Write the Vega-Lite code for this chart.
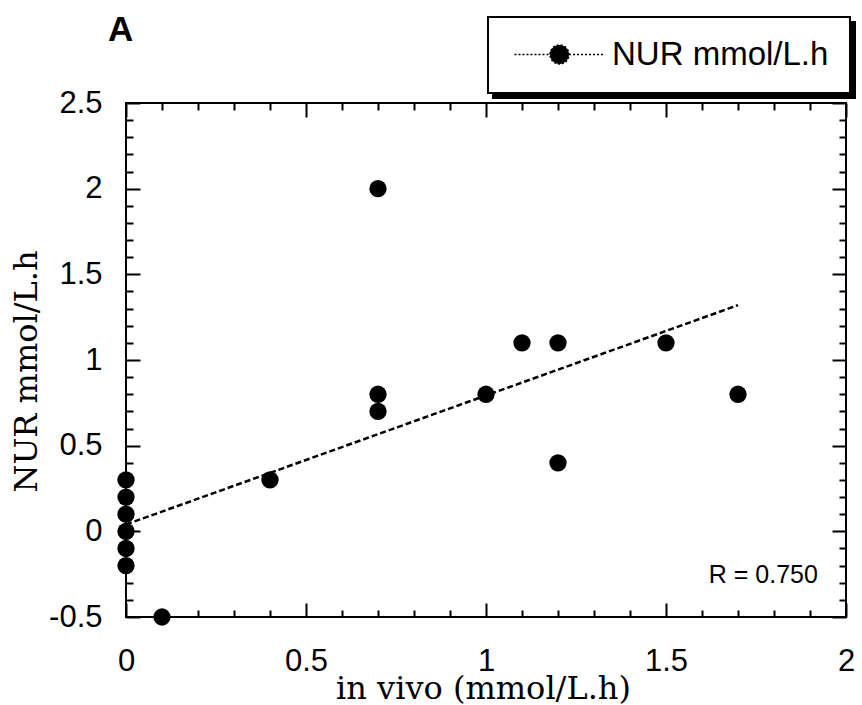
{
  "$schema": "https://vega.github.io/schema/vega-lite/v6.json",
  "width": 720,
  "height": 514,
  "autosize": {"type": "none"},
  "padding": {"left": 126, "top": 103, "right": 16, "bottom": 88},
  "background": "white",
  "title": {"text": "A", "anchor": "start", "frame": "group", "dx": -18, "offset": -67, "font": "Liberation Sans", "fontSize": 35, "fontWeight": "bold", "color": "black", "baseline": "bottom"},
  "config": {
    "title": {"font": "Liberation Sans", "fontSize": 35, "fontWeight": "bold", "color": "black"},
    "view": {"stroke": "black", "strokeWidth": 2},
    "axis": {"domain": false, "grid": false, "tickColor": "black", "tickWidth": 2, "labelFont": "Liberation Sans", "labelFontSize": 31, "labelColor": "black", "titleColor": "black", "titleFont": "DejaVu Serif", "titleFontSize": 32, "titleFontWeight": "normal", "labelOverlap": false, "labelFlush": false, "labelBound": false},
    "legend": {"strokeColor": "black", "strokeWidth": 2, "padding": 21, "symbolType": "M -3 0 L -0.633 0 M 0.633 0 L 3 0 M -0.633 0 A 0.633 0.633 0 1 1 0.633 0 A 0.633 0.633 0 1 1 -0.633 0 Z", "symbolSize": 900, "symbolOffset": 34, "labelOffset": 36, "labelFont": "Liberation Sans", "labelFontSize": 33, "labelColor": "black", "labelLimit": 0, "symbolStrokeColor": "black", "symbolStrokeWidth": 1.5, "symbolDash": [2, 2], "symbolFillColor": "black", "symbolOpacity": 1}
  },
  "resolve": {"axis": {"x": "independent", "y": "independent"}},
  "layer": [
    {
      "data": {"values": [
        {"x": 0, "y": 0.04, "fit": "NUR mmol/L.h"},
        {"x": 1.7, "y": 1.32, "fit": "NUR mmol/L.h"}
      ]},
      "mark": {"type": "line", "color": "black", "strokeWidth": 2.5},
      "encoding": {
        "x": {"field": "x", "type": "quantitative", "scale": {"domain": [0, 2], "nice": false, "zero": false},
          "axis": {"orient": "top", "values": [0,0.1,0.2,0.3,0.4,0.5,0.6,0.7,0.8,0.9,1,1.1,1.2,1.3,1.4,1.5,1.6,1.7,1.8,1.9,2], "labels": false, "title": null,
            "tickSize": {"condition": {"test": "abs(datum.value*2-round(datum.value*2))<0.001", "value": -14}, "value": -7}}},
        "y": {"field": "y", "type": "quantitative", "scale": {"domain": [-0.5, 2.5], "nice": false, "zero": false},
          "axis": {"orient": "right", "values": [-0.5,-0.4,-0.3,-0.2,-0.1,0,0.1,0.2,0.3,0.4,0.5,0.6,0.7,0.8,0.9,1,1.1,1.2,1.3,1.4,1.5,1.6,1.7,1.8,1.9,2,2.1,2.2,2.3,2.4,2.5], "labels": false, "title": null,
            "tickSize": {"condition": {"test": "abs(datum.value*2-round(datum.value*2))<0.001", "value": -14}, "value": -7}}},
        "strokeDash": {"field": "fit", "type": "nominal", "scale": {"range": [[6, 3]]},
          "legend": {"orient": "none", "legendX": 367, "legendY": -81, "fillColor": "black", "title": null}}
      }
    },
    {
      "data": {"values": [
        {"x": 0, "y": 0.3, "series": "NUR mmol/L.h"},
        {"x": 0, "y": 0.2, "series": "NUR mmol/L.h"},
        {"x": 0, "y": 0.1, "series": "NUR mmol/L.h"},
        {"x": 0, "y": 0, "series": "NUR mmol/L.h"},
        {"x": 0, "y": -0.1, "series": "NUR mmol/L.h"},
        {"x": 0, "y": -0.2, "series": "NUR mmol/L.h"},
        {"x": 0.1, "y": -0.5, "series": "NUR mmol/L.h"},
        {"x": 0.4, "y": 0.3, "series": "NUR mmol/L.h"},
        {"x": 0.7, "y": 2.0, "series": "NUR mmol/L.h"},
        {"x": 0.7, "y": 0.8, "series": "NUR mmol/L.h"},
        {"x": 0.7, "y": 0.7, "series": "NUR mmol/L.h"},
        {"x": 1.0, "y": 0.8, "series": "NUR mmol/L.h"},
        {"x": 1.1, "y": 1.1, "series": "NUR mmol/L.h"},
        {"x": 1.2, "y": 1.1, "series": "NUR mmol/L.h"},
        {"x": 1.2, "y": 0.4, "series": "NUR mmol/L.h"},
        {"x": 1.5, "y": 1.1, "series": "NUR mmol/L.h"},
        {"x": 1.7, "y": 0.8, "series": "NUR mmol/L.h"}
      ]},
      "mark": {"type": "point", "filled": true, "size": 300, "opacity": 1},
      "encoding": {
        "x": {"field": "x", "type": "quantitative",
          "axis": {"orient": "bottom", "values": [0,0.1,0.2,0.3,0.4,0.5,0.6,0.7,0.8,0.9,1,1.1,1.2,1.3,1.4,1.5,1.6,1.7,1.8,1.9,2],
            "tickSize": {"condition": {"test": "abs(datum.value*2-round(datum.value*2))<0.001", "value": -14}, "value": -7},
            "labelExpr": "abs(datum.value*2-round(datum.value*2))<0.001 ? ''+datum.value : ''",
            "labelPadding": 43, "labelBaseline": "top",
            "title": "in vivo (mmol/L.h)", "titleX": 357, "titleY": 71, "titleAlign": "center", "titleBaseline": "middle", "titleAngle": 0}},
        "y": {"field": "y", "type": "quantitative",
          "axis": {"orient": "left", "values": [-0.5,-0.4,-0.3,-0.2,-0.1,0,0.1,0.2,0.3,0.4,0.5,0.6,0.7,0.8,0.9,1,1.1,1.2,1.3,1.4,1.5,1.6,1.7,1.8,1.9,2,2.1,2.2,2.3,2.4,2.5],
            "tickSize": {"condition": {"test": "abs(datum.value*2-round(datum.value*2))<0.001", "value": -14}, "value": -7},
            "labelExpr": "abs(datum.value*2-round(datum.value*2))<0.001 ? ''+datum.value : ''",
            "labelPadding": 38, "labelBaseline": "middle",
            "title": "NUR mmol/L.h", "titleX": -100, "titleY": 268, "titleAlign": "center", "titleBaseline": "middle", "titleAngle": 270}},
        "color": {"field": "series", "type": "nominal", "scale": {"range": ["black"]},
          "legend": {"orient": "none", "legendX": 362, "legendY": -86, "fillColor": "white", "title": null}}
      }
    },
    {
      "data": {"values": [{"note": "R = 0.750"}]},
      "mark": {"type": "text", "align": "right", "baseline": "middle", "font": "Liberation Sans", "fontSize": 25, "color": "black"},
      "encoding": {
        "x": {"datum": 1.922, "type": "quantitative", "axis": null},
        "y": {"datum": -0.257, "type": "quantitative", "axis": null},
        "text": {"field": "note"}
      }
    }
  ]
}
